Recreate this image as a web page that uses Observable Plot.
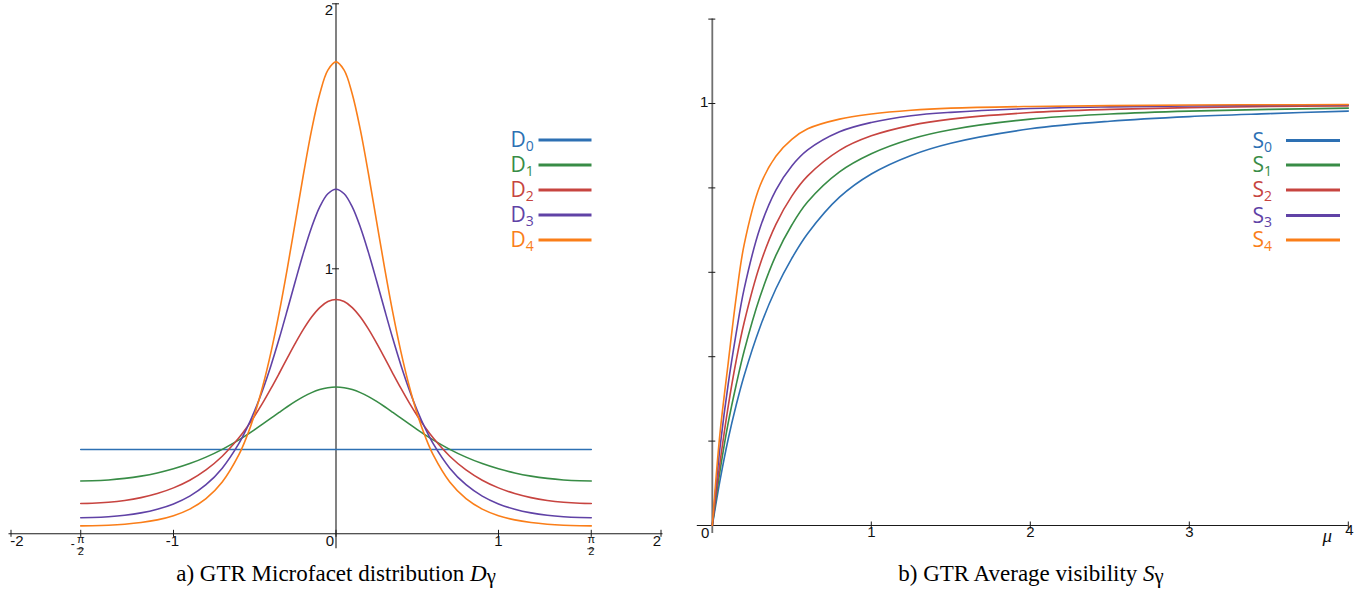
<!DOCTYPE html>
<html><head><meta charset="utf-8">
<script src="https://cdn.jsdelivr.net/npm/d3@7"></script>
<script src="https://cdn.jsdelivr.net/npm/@observablehq/plot@0.6"></script>
<style>
body{margin:0;background:#fff;}
#root{position:relative;width:1370px;height:603px;overflow:hidden;background:#fff;}
.chart{position:absolute;top:0;}
.caption{position:absolute;top:561px;font-family:"Liberation Serif","Times New Roman",serif;font-size:23px;text-align:center;color:#000;white-space:nowrap;}
#legend{position:absolute;left:0;top:0;pointer-events:none;}
</style></head>
<body><div id="root"></div>
<script>
// ---------- data ----------
const colors = ["#2d70b3", "#388c46", "#c74440", "#6042a6", "#fa7e19"];
const subs = ["0", "1", "2", "3", "4"];

// a) microfacet distribution D_gamma(theta)
const theta = [-1.5708,-1.5,-1.4,-1.3,-1.2,-1.1,-1.0,-0.9,-0.8,-0.7,-0.6,-0.55,-0.5,-0.45,-0.4,-0.35,-0.3,-0.25,-0.2,-0.15,-0.1,-0.05,0,0.05,0.1,0.15,0.2,0.25,0.3,0.35,0.4,0.45,0.5,0.55,0.6,0.7,0.8,0.9,1.0,1.1,1.2,1.3,1.4,1.5,1.5708];
const thetaD0 = [-1.5708, 1.5708];
const D0 = [0.3183, 0.3183];
const D1 = [0.1994,0.2000,0.2032,0.2090,0.2177,0.2296,0.2452,0.2649,0.2893,0.3187,0.3535,0.3728,0.3932,0.4145,0.4363,0.4581,0.4795,0.4995,0.5176,0.5327,0.5442,0.5514,0.5539,0.5514,0.5442,0.5327,0.5176,0.4995,0.4795,0.4581,0.4363,0.4145,0.3932,0.3728,0.3535,0.3187,0.2893,0.2649,0.2452,0.2296,0.2177,0.2090,0.2032,0.2000,0.1994];
const D2 = [0.1146,0.1153,0.1190,0.1259,0.1366,0.1520,0.1733,0.2023,0.2412,0.2928,0.3602,0.4006,0.4457,0.4952,0.5486,0.6049,0.6626,0.7192,0.7721,0.8180,0.8537,0.8765,0.8843,0.8765,0.8537,0.8180,0.7721,0.7192,0.6626,0.6049,0.5486,0.4952,0.4457,0.4006,0.3602,0.2928,0.2412,0.2023,0.1733,0.1520,0.1366,0.1259,0.1190,0.1153,0.1146];
const D3 = [0.0607,0.0613,0.0642,0.0698,0.0789,0.0927,0.1128,0.1423,0.1852,0.2478,0.3381,0.3965,0.4653,0.5449,0.6354,0.7358,0.8434,0.9539,1.0610,1.1570,1.2336,1.2832,1.3004,1.2832,1.2336,1.1570,1.0610,0.9539,0.8434,0.7358,0.6354,0.5449,0.4653,0.3965,0.3381,0.2478,0.1852,0.1423,0.1128,0.0927,0.0789,0.0698,0.0642,0.0613,0.0607];
const D4 = [0.0299,0.0303,0.0322,0.0361,0.0425,0.0526,0.0684,0.0932,0.1325,0.1953,0.2955,0.3655,0.4523,0.5584,0.6854,0.8334,0.9998,1.1781,1.3577,1.5240,1.6599,1.7495,1.7807,1.7495,1.6599,1.5240,1.3577,1.1781,0.9998,0.8334,0.6854,0.5584,0.4523,0.3655,0.2955,0.1953,0.1325,0.0932,0.0684,0.0526,0.0425,0.0361,0.0322,0.0303,0.0299];
const dTicksX = [-2, -1.5708, -1, 0, 1, 1.5708, 2];
const dIntTicks = [-2, -1, 0, 1, 2];
const dIntLabels = ["-2", "-1", "0", "1", "2"];
const dPiTicks = [-1.5708, 1.5708];
const dPiSigns = ["-", ""];
const dTicksY = [1, 2];
const dLabelsY = ["1", "2"];

// b) average visibility S_gamma(mu)
const mu = [0,0.025,0.05,0.1,0.15,0.2,0.3,0.4,0.5,0.6,0.8,1.0,1.25,1.5,2.0,2.5,3.0,3.5,4.0];
const S0 = [0,0.056,0.11,0.205,0.285,0.355,0.47,0.561,0.633,0.692,0.778,0.833,0.877,0.906,0.94,0.958,0.969,0.976,0.982];
const S1 = [0,0.069,0.133,0.243,0.333,0.413,0.542,0.64,0.712,0.767,0.838,0.881,0.916,0.938,0.963,0.975,0.982,0.986,0.989];
const S2 = [0,0.0799,0.1534,0.2824,0.3904,0.4805,0.618,0.7136,0.7806,0.8284,0.8889,0.9233,0.9482,0.9629,0.9785,0.986,0.9902,0.9928,0.9944];
const S3 = [0,0.1,0.19,0.335,0.455,0.56,0.705,0.795,0.852,0.89,0.933,0.955,0.971,0.979,0.988,0.992,0.994,0.9955,0.9965];
const S4 = [0,0.12,0.225,0.385,0.54,0.665,0.805,0.875,0.915,0.94,0.963,0.975,0.984,0.989,0.993,0.995,0.9965,0.997,0.9975];
const sTicksX = [1, 2, 3, 4];
const sLabelsX = ["1", "2", "3", "4"];
const sTicksY = [0.2, 0.4, 0.6, 0.8, 1, 1.2];
const sLabelY = ["1"];
const sLabelYVal = [1];

// ---------- drawing ----------
const root = document.getElementById("root");
const tickFont = '"Liberation Sans", Arial, sans-serif';
const axisColor = "#1a1a1a";
const lw = 1.6;
const tk = {fontSize: 15, fontFamily: tickFont, fill: "#111"};

const dSeries = [D0, D1, D2, D3, D4];
const left = Plot.plot({
  width: 680, height: 560,
  marginLeft: 10.5, marginRight: 19.5, marginTop: 3.3, marginBottom: 26.7,
  x: {domain: [-2, 2], axis: null},
  y: {domain: [0, 2], axis: null},
  style: {background: "transparent", overflow: "visible"},
  marks: [
    Plot.ruleY([0], {stroke: axisColor, strokeWidth: 1.1, insetLeft: -2, insetRight: -2}),
    Plot.ruleX([0], {stroke: axisColor, strokeWidth: 1.1, insetBottom: -15}),
    Plot.ruleX(dTicksX, {x: d => d, y1: 0, y2: 0, insetTop: -3.5, insetBottom: -3.5, stroke: axisColor, strokeWidth: 1}),
    Plot.ruleY(dTicksY, {y: d => d, x1: 0, x2: 0, insetLeft: -3.5, insetRight: -3.5, stroke: axisColor, strokeWidth: 1}),
    // integer tick labels (edge labels are nudged inward, "0" sits left of the axis)
    Plot.text(dIntTicks.slice(0, 1), {x: d => d, frameAnchor: "bottom", text: () => dIntLabels[0], dx: 6, dy: 12, ...tk}),
    Plot.text(dIntTicks.slice(1, 2), {x: d => d, frameAnchor: "bottom", text: () => dIntLabels[1], dx: -1, dy: 12, ...tk}),
    Plot.text(dIntTicks.slice(2, 3), {x: d => d, frameAnchor: "bottom", text: () => dIntLabels[2], textAnchor: "end", dx: -2, dy: 12, ...tk}),
    Plot.text(dIntTicks.slice(3, 4), {x: d => d, frameAnchor: "bottom", text: () => dIntLabels[3], dy: 12, ...tk}),
    Plot.text(dIntTicks.slice(4, 5), {x: d => d, frameAnchor: "bottom", text: () => dIntLabels[4], dx: -4, dy: 12, ...tk}),
    // pi/2 fractions
    Plot.text(dPiTicks, {x: d => d, frameAnchor: "bottom", text: () => "π", dy: 9, fontSize: 11, fontFamily: tickFont, fill: "#111"}),
    Plot.text(dPiTicks, {x: d => d, frameAnchor: "bottom", text: () => "2", dy: 21, fontSize: 11, fontFamily: tickFont, fill: "#111"}),
    Plot.ruleY(dPiTicks, {y: () => 0, x1: d => d, x2: d => d, insetLeft: -3.5, insetRight: -3.5, dy: 15, stroke: "#111", strokeWidth: 0.8}),
    Plot.text(dPiTicks, {x: d => d, frameAnchor: "bottom", text: (d, i) => dPiSigns[i], dx: -8, dy: 14, fontSize: 12, fontFamily: tickFont, fill: "#111"}),
    // y labels
    Plot.text(dTicksY.slice(0, 1), {y: d => d, x: () => 0, text: () => dLabelsY[0], textAnchor: "end", dx: -3, ...tk}),
    Plot.text(dTicksY.slice(1, 2), {y: d => d, x: () => 0, text: () => dLabelsY[1], textAnchor: "end", dx: -3, dy: 6, ...tk}),
    // curves
    Plot.line(thetaD0, {x: thetaD0, y: D0, stroke: colors[0], strokeWidth: lw}),
    ...[1, 2, 3, 4].map(k => Plot.line(theta, {x: theta, y: dSeries[k], stroke: colors[k], strokeWidth: lw, curve: "catmull-rom"}))
  ]
});
left.classList.add("chart");
left.style.left = "0px";
root.appendChild(left);

const sSeries = [S0, S1, S2, S3, S4];
const right = Plot.plot({
  width: 690, height: 560,
  marginLeft: 31.8, marginRight: 22.2, marginTop: 18.6, marginBottom: 35,
  x: {domain: [0, 4], axis: null},
  y: {domain: [0, 1.2], axis: null},
  style: {background: "transparent", overflow: "visible"},
  marks: [
    Plot.ruleY([0], {stroke: axisColor, strokeWidth: 1.1, insetLeft: -15}),
    Plot.ruleX([0], {stroke: "#707070", strokeWidth: 1.8, insetBottom: -8}),
    Plot.ruleX(sTicksX, {x: d => d, y1: 0, y2: 0, insetTop: -3.5, insetBottom: -3.5, stroke: axisColor, strokeWidth: 1}),
    Plot.ruleY(sTicksY, {y: d => d, x1: 0, x2: 0, insetLeft: -3.5, insetRight: -3.5, stroke: axisColor, strokeWidth: 1}),
    Plot.text(sTicksX.slice(0, 3), {x: d => d, frameAnchor: "bottom", text: (d, i) => sLabelsX[i], dy: 11, ...tk}),
    Plot.text(sTicksX.slice(3, 4), {x: d => d, frameAnchor: "bottom", text: () => sLabelsX[3], dx: 1, dy: 9, ...tk}),
    Plot.text([0], {x: d => d, frameAnchor: "bottom", text: () => "0", textAnchor: "end", dx: -3, dy: 12, ...tk}),
    Plot.text(sTicksX.slice(3, 4), {x: d => d, frameAnchor: "bottom", text: () => "μ", dx: -21, dy: 16, fontSize: 19, fontStyle: "italic", fontFamily: '"Liberation Serif", serif', fill: "#111"}),
    Plot.text(sLabelYVal, {y: d => d, x: () => 0, text: (d, i) => sLabelY[i], textAnchor: "end", dx: -4, dy: -1, ...tk}),
    ...[0, 1, 2, 3, 4].map(k => Plot.line(mu, {x: mu, y: sSeries[k], stroke: colors[k], strokeWidth: lw, curve: "catmull-rom"}))
  ]
});
right.classList.add("chart");
right.style.left = "680px";
root.appendChild(right);

// ---------- legends ----------
const svg = d3.select(root).append("svg").attr("id", "legend").attr("width", 1370).attr("height", 603);
function legend(letter, x0, lx1, lx2, ys) {
  subs.forEach((s, i) => {
    const y = ys[i];
    const t = svg.append("text").attr("x", x0).attr("y", y + 7)
      .attr("fill", colors[i]).attr("font-family", '"Open Sans", sans-serif').attr("font-size", 21);
    t.append("tspan").text(letter);
    t.append("tspan").attr("dy", 4).attr("font-size", 14).text(s);
    svg.append("line").attr("x1", lx1).attr("x2", lx2).attr("y1", y).attr("y2", y)
      .attr("stroke", colors[i]).attr("stroke-width", 3);
  });
}
legend("D", 510.5, 538.5, 591.5, [140, 165, 190, 215, 240]);
legend("S", 1252.5, 1286, 1340, [140.5, 165, 190, 215.5, 240]);

// ---------- captions ----------
const capA = document.createElement("div");
capA.className = "caption";
capA.style.left = "0px"; capA.style.width = "672px";
capA.innerHTML = 'a) GTR Microfacet distribution <i>D</i><span style="font-size:0.9em;position:relative;top:2px">γ</span>';
root.appendChild(capA);
const capB = document.createElement("div");
capB.className = "caption";
capB.style.left = "690px"; capB.style.width = "682px";
capB.innerHTML = 'b) GTR Average visibility <i>S</i><span style="font-size:0.9em;position:relative;top:2px">γ</span>';
root.appendChild(capB);
</script>
</body></html>
